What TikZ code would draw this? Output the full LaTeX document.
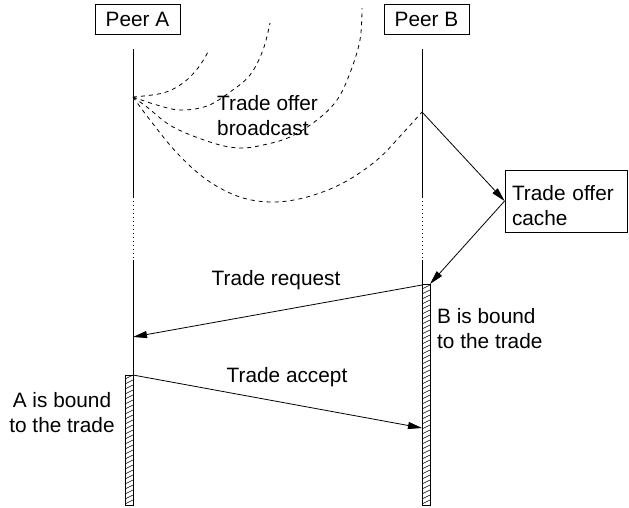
\documentclass[tikz,border=0pt]{standalone}
\usepackage{fontspec}
\setmainfont{Liberation Sans}
\usetikzlibrary{arrows.meta}
\begin{document}
\begin{tikzpicture}[x=1pt,y=-1pt,
  txt/.style={font=\fontsize{20.8}{25}\selectfont},
  lbl/.style={txt, inner sep=0pt},
  peer/.style={txt, draw, line width=0.8pt, minimum width=85pt, minimum height=30pt, inner sep=0pt, text height=15pt, text depth=0pt},
  cachebox/.style={txt, draw, line width=0.8pt, align=left, text width=108pt, inner xsep=7pt, inner ysep=0pt, minimum height=62pt},
  life/.style={line width=0.8pt},
  dots/.style={line width=0.8pt, dash pattern=on 1pt off 3pt},
  wave/.style={line width=0.8pt, dash pattern=on 4pt off 4pt},
  msg/.style={line width=0.8pt, -{Triangle[length=14pt,width=7pt]}},
  bar/.style={draw, line width=0.8pt},
  hatch/.style={line width=0.5pt}]
\useasboundingbox (0,0) rectangle (629,507);

% peers
\node[peer] (peerA) at (137.5,19) {Peer A};
\node[peer] (peerB) at (426.5,19) {Peer B};

% lifeline points
\coordinate (aTop) at (133,49);
\coordinate (aD1) at (133,197);
\coordinate (aD2) at (133,260);
\coordinate (aBot) at (133,505);
\coordinate (bTop) at (422,49);
\coordinate (bD1) at (422,197);
\coordinate (bD2) at (422,260);
\coordinate (bBot) at (422,505);

% hatched bars
\draw[bar] (125,375) rectangle (133,505);
\begin{scope}
  \clip (125,375) rectangle (133,505);
  \foreach \y in {370,375,...,515} \draw[hatch] (125,\y+4) -- (133,\y);
\end{scope}
\draw[bar] (422,284) rectangle (430,505);
\begin{scope}
  \clip (422,284) rectangle (430,505);
  \foreach \y in {280,285,...,515} \draw[hatch] (422,\y+4) -- (430,\y);
\end{scope}

% lifelines
\draw[life] (aTop) -- (aD1);
\draw[dots] (aD1) -- (aD2);
\draw[life] (aD2) -- (aBot);
\draw[life] (bTop) -- (bD1);
\draw[dots] (bD1) -- (bD2);
\draw[life] (bD2) -- (bBot);

% broadcast
\coordinate (bc) at (133,97);
\coordinate (bB) at (422,112);
\draw[wave] plot[smooth, tension=0.6] coordinates {(133,97) (163,93) (183,83) (198,68) (208,52)};
\draw[wave] plot[smooth, tension=0.6] coordinates {(133,97) (157,105) (180,110) (207,106) (230,92) (250,75) (263,50) (270,23)};
\draw[wave] plot[smooth, tension=0.6] coordinates {(133,97) (147,107) (173,127) (213,143) (240,148) (263,145) (290,137) (317,120) (337,100) (350,73) (360,40) (362,8)};
\draw[wave] plot[smooth, tension=0.6] coordinates {(133,97) (150,120) (177,153) (207,180) (240,197) (273,202) (307,197) (343,183) (377,160) (403,133) (422,112)};
\node[lbl, align=left, anchor=north west] (tob) at (217,95) {Trade offer\\broadcast};

% cache
\node[cachebox] (cache) at (566,201) {\rule{0pt}{25pt}Trade offer\\cache};
\coordinate (cacheIn) at (430,284);
\draw[msg] (bB) -- (cache.west);
\draw[msg] (cache.west) -- (cacheIn);

% messages
\coordinate (reqS) at (422,285);
\coordinate (reqE) at (133,337);
\coordinate (accS) at (133,375);
\coordinate (accE) at (422,428);
\draw[msg] (reqS) -- (reqE);
\draw[msg] (accS) -- (accE);
\node[lbl, anchor=base] (treq) at (276,285) {Trade request};
\node[lbl, anchor=base] (tacc) at (287,382) {Trade accept};
\node[lbl, align=left, anchor=north west] (bbound) at (437,308) {B is bound\\to the trade};
\node[lbl, align=center, anchor=north] (abound) at (62,392) {A is bound\\to the trade};
\end{tikzpicture}
\end{document}
